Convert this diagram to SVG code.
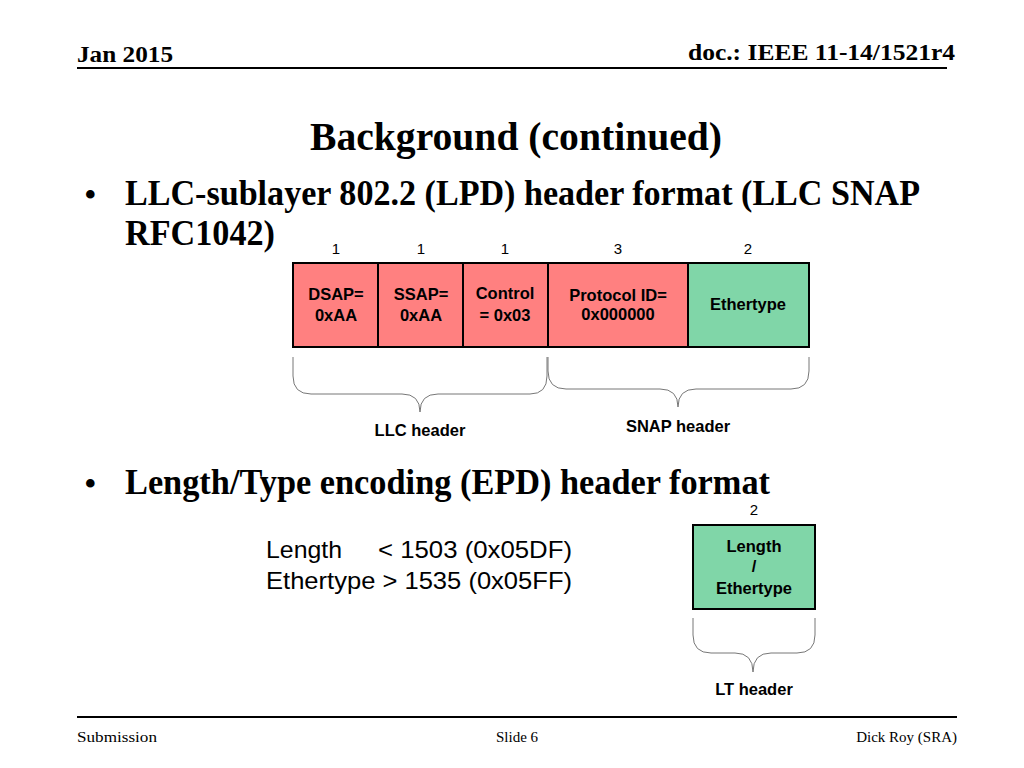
<svg xmlns="http://www.w3.org/2000/svg" width="1024" height="768" viewBox="0 0 1024 768">
<style>
.ser{font-family:"Liberation Serif","Times New Roman",serif;fill:#000}
.b{font-weight:bold}
.sans{font-family:"Liberation Sans",Arial,sans-serif;fill:#000}
.box{stroke:#000;stroke-width:2}
.red{fill:#FF8080}
.grn{fill:#80D6A8}
.lbl{font-family:"Liberation Sans",Arial,sans-serif;font-weight:bold;font-size:16.5px;text-anchor:middle;fill:#000}
.num{font-family:"Liberation Sans",Arial,sans-serif;font-size:15px;text-anchor:middle;fill:#000}
.brace{fill:none;stroke:#777;stroke-width:1}
</style>
<rect width="1024" height="768" fill="#fff"/>
<!-- header/footer -->
<text class="ser b" x="77" y="62" font-size="24" textLength="96" lengthAdjust="spacingAndGlyphs">Jan 2015</text>
<text class="ser b" x="688" y="60" font-size="24" textLength="267" lengthAdjust="spacingAndGlyphs">doc.: IEEE 11-14/1521r4</text>
<line x1="77" y1="68" x2="947" y2="68" stroke="#000" stroke-width="2"/>
<line x1="77" y1="717" x2="957" y2="717" stroke="#000" stroke-width="2"/>
<text class="ser" x="77" y="742" font-size="15" textLength="80" lengthAdjust="spacingAndGlyphs">Submission</text>
<text class="ser" x="517" y="742" font-size="15" text-anchor="middle">Slide 6</text>
<text class="ser" x="957" y="742" font-size="15" text-anchor="end">Dick Roy (SRA)</text>
<!-- title and bullets -->
<text class="ser b" x="310" y="150" font-size="40" textLength="412" lengthAdjust="spacingAndGlyphs">Background (continued)</text>
<text class="ser" x="84" y="207" font-size="36">•</text>
<text class="ser b" x="125" y="205" font-size="36" textLength="795" lengthAdjust="spacingAndGlyphs">LLC-sublayer 802.2 (LPD) header format (LLC SNAP</text>
<text class="ser b" x="125" y="245" font-size="36" textLength="150" lengthAdjust="spacingAndGlyphs">RFC1042)</text>
<text class="ser" x="84" y="496" font-size="36">•</text>
<text class="ser b" x="125" y="494" font-size="36" textLength="645" lengthAdjust="spacingAndGlyphs">Length/Type encoding (EPD) header format</text>
<!-- byte counts -->
<text class="num" x="336" y="254">1</text>
<text class="num" x="421" y="254">1</text>
<text class="num" x="505" y="254">1</text>
<text class="num" x="618" y="254">3</text>
<text class="num" x="748" y="254">2</text>
<text class="num" x="754" y="515">2</text>
<!-- nodes -->
<g id="dsap"><rect class="box red" x="293" y="263" width="85" height="84"/>
<text class="lbl" x="336" y="300">DSAP=</text><text class="lbl" x="336" y="321">0xAA</text></g>
<g id="ssap"><rect class="box red" x="378" y="263" width="85" height="84"/>
<text class="lbl" x="421" y="300">SSAP=</text><text class="lbl" x="421" y="321">0xAA</text></g>
<g id="control"><rect class="box red" x="463" y="263" width="85" height="84"/>
<text class="lbl" x="505" y="299">Control</text><text class="lbl" x="505" y="321">= 0x03</text></g>
<g id="protocol"><rect class="box red" x="548" y="263" width="140" height="84"/>
<text class="lbl" x="618" y="301">Protocol ID=</text><text class="lbl" x="618" y="320" font-size="14">0x000000</text></g>
<g id="ethertype"><rect class="box grn" x="688" y="263" width="121" height="84"/>
<text class="lbl" x="748" y="310">Ethertype</text></g>
<g id="lengthtype"><rect class="box grn" x="693" y="525" width="122" height="84"/>
<text class="lbl" x="754" y="552">Length</text><text class="lbl" x="754" y="572" font-size="13" font-weight="normal">/</text><text class="lbl" x="754" y="594">Ethertype</text></g>
<!-- braces -->
<g id="connectors">
<path class="brace" d="M293,357 L293,376 Q293,394 311,394 L402,394 Q420,394 420,412 Q420,394 438,394 L530,394 Q547,394 547,376 L547,357"/>
<path class="brace" d="M548,357 L548,371 Q548,389 566,389 L660,389 Q678,389 678,407 Q678,389 696,389 L791,389 Q809,389 809,371 L809,357"/>
<path class="brace" d="M693,618 L693,635 Q693,653 711,653 L735,653 Q753,653 753,672 Q753,653 771,653 L797,653 Q815,653 815,635 L815,618"/>
</g>
<text class="lbl" x="420" y="436">LLC header</text>
<text class="lbl" x="678" y="432">SNAP header</text>
<text class="lbl" x="754" y="695">LT header</text>
<!-- length text -->
<text class="sans" x="266" y="558" font-size="24" textLength="76" lengthAdjust="spacingAndGlyphs">Length</text>
<text class="sans" x="378" y="558" font-size="24" textLength="194" lengthAdjust="spacingAndGlyphs">&lt; 1503 (0x05DF)</text>
<text class="sans" x="266" y="589" font-size="24" textLength="306" lengthAdjust="spacingAndGlyphs">Ethertype &gt; 1535 (0x05FF)</text>
</svg>
